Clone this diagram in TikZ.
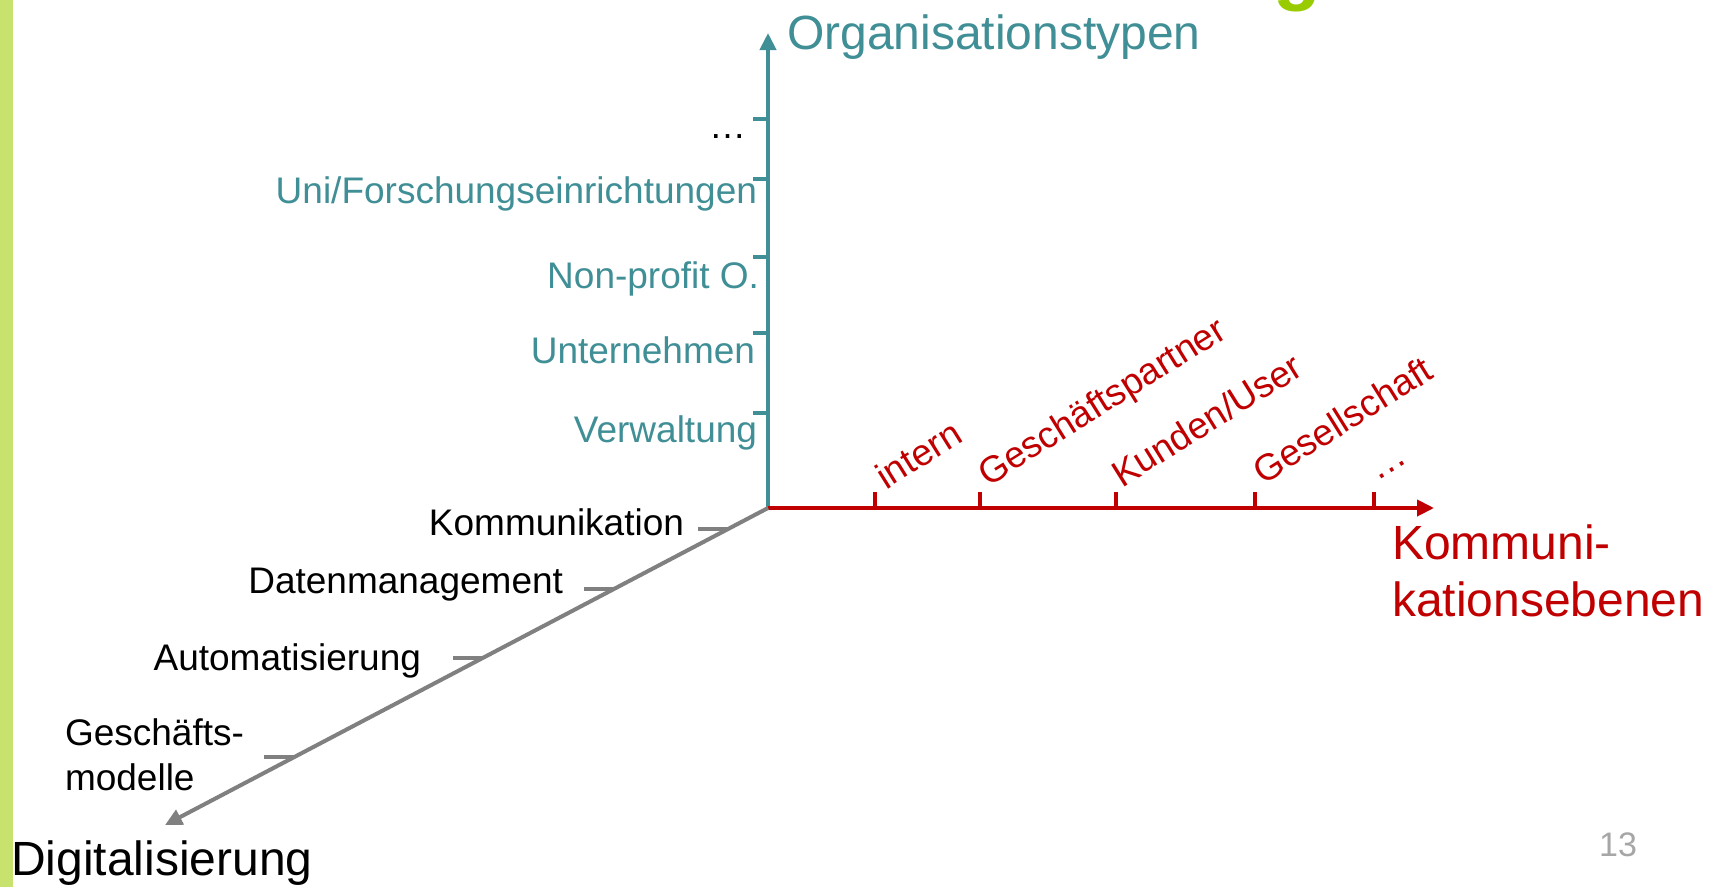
\documentclass[tikz,border=0pt]{standalone}
\usepackage{fontspec}
\setmainfont{Liberation Sans}
\usetikzlibrary{arrows.meta,calc}
\definecolor{tealc}{RGB}{64,143,150}
\definecolor{redc}{RGB}{192,0,0}
\definecolor{grayc}{RGB}{128,128,128}
\definecolor{greenc}{RGB}{153,204,0}
\definecolor{stripc}{RGB}{200,226,110}
\definecolor{pnumc}{RGB}{166,166,166}
\begin{document}
\begin{tikzpicture}[x=1pt,y=-1pt,
  lbl/.style={inner sep=0pt, outer sep=0pt, font=\fontsize{37}{44.4}\selectfont},
  big/.style={inner sep=0pt, outer sep=0pt, font=\fontsize{48}{57}\selectfont},
  axisline/.style={line width=4pt},
  tickline/.style={line width=4pt},
  tipped/.style={-{Triangle[width=16pt,length=17pt]}}
]
\useasboundingbox (0,0) rectangle (1726,887);
\fill[white] (0,0) rectangle (1726,887);
\fill[stripc] (0,0) rectangle (13,887);
\begin{scope}
\clip (0,0) rectangle (1726,887);
\node[anchor=base, inner sep=0pt, text=greenc, font=\fontsize{78}{90}\selectfont\bfseries] (gt) at (1297,-5) {g};
\end{scope}

% axes
\coordinate (O) at (768,508);
\coordinate (Vt) at (768,33);
\coordinate (Ht) at (1434,508);
\coordinate (Dt) at (165,825);
\draw[axisline, tealc, tipped] (O) -- (Vt);
\draw[axisline, redc, tipped] (O) -- (Ht);
\draw[axisline, grayc, tipped] (O) -- (Dt);

% vertical ticks
\foreach \i/\y in {1/119,2/179,3/257,4/333,5/413}{
  \coordinate (v\i) at (768,\y);
  \draw[tickline, tealc] (v\i) -- ++(-15,0);
}
% horizontal ticks
\foreach \i/\x in {1/875,2/980,3/1116,4/1255,5/1374}{
  \coordinate (h\i) at (\x,508);
  \draw[tickline, redc] (h\i) -- ++(0,-16);
}
% diagonal ticks
\foreach \i/\t in {1/0.066,2/0.2555,3/0.473,4/0.7855}{
  \coordinate (d\i) at ($(O)!\t!(Dt)$);
  \draw[tickline, grayc] (d\i) -- ++(-30,0);
}

% teal labels
\node[big, text=tealc, anchor=base west] (ot) at (787,49) {Organisationstypen};
\node[lbl, anchor=base east] (vdots) at (746,138) {…};
\node[lbl, text=tealc, anchor=base east] (uni) at (757,203) {Uni/Forschungseinrichtungen};
\node[lbl, text=tealc, anchor=base east] (npo) at (759,288) {Non-profit O.};
\node[lbl, text=tealc, anchor=base east] (unt) at (755,363) {Unternehmen};
\node[lbl, text=tealc, anchor=base east] (ver) at (757,442) {Verwaltung};

% red labels
\node[lbl, text=redc, rotate=32, anchor=base west] (int) at (886,490) {intern};
\node[lbl, text=redc, rotate=32, anchor=base west] (gp) at (988,487) {Geschäftspartner};
\node[lbl, text=redc, rotate=32, anchor=base west] (ku) at (1122,488) {Kunden/User};
\node[lbl, text=redc, rotate=32, anchor=base west] (ges) at (1263,485) {Gesellschaft};
\node[lbl, text=redc, rotate=32, anchor=base west] (rdots) at (1377,481) {…};
\node[big, text=redc, anchor=base west, align=left] (ke) at (1392,616) {Kommuni-\\kationsebenen};

% black labels
\node[lbl, anchor=base east] (kom) at (684,535) {Kommunikation};
\node[lbl, anchor=base east] (dat) at (563,593) {Datenmanagement};
\node[lbl, anchor=base east] (aut) at (421,670) {Automatisierung};
\node[lbl, anchor=base west, align=left] (gm) at (65,790) {Geschäfts-\\modelle};
\node[big, anchor=base west] (dig) at (11,875) {Digitalisierung};

% page number
\node[inner sep=0pt, text=pnumc, anchor=base west, font=\fontsize{34}{40}\selectfont] (pn) at (1599,856) {13};
\end{tikzpicture}
\end{document}
